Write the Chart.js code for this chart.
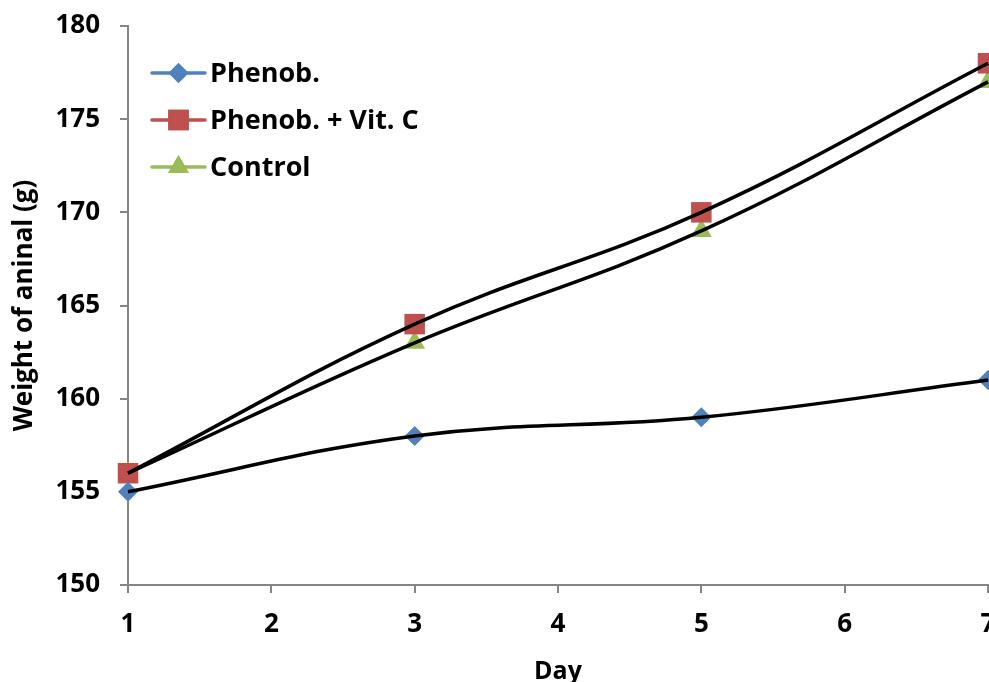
<!DOCTYPE html>
<html>
<head>
<meta charset="utf-8">
<script src="https://cdn.jsdelivr.net/npm/chart.js@4"></script>
<style>
html,body{margin:0;padding:0;overflow:hidden;background:#fff;}
#wrap{width:1012px;height:687px;}
</style>
</head>
<body>
<div id="wrap"><canvas id="c" width="1012" height="687"></canvas></div>
<script>
const days = [1, 3, 5, 7];
const phenob = [155, 158, 159, 161];
const phenobVitC = [156, 164, 170, 178];
const control = [156, 163, 169, 177];
const seriesNames = ['Phenob.', 'Phenob. + Vit. C', 'Control'];
const seriesColors = ['#4F81BD', '#C0504D', '#9BBB59'];
const seriesStyles = ['rectRot', 'rect', 'triangle'];
const seriesRadii = [10, 14.5, 12];
const xTicks = [1, 2, 3, 4, 5, 6, 7];
const yTicks = [150, 155, 160, 165, 170, 175, 180];

const FONT = '"Open Sans"';
const WEIGHT = 'bold';
const allValues = [phenob, phenobVitC, control];
const pts = v => days.map((d, i) => ({x: d, y: v[i]}));

const datasets = [];
allValues.forEach((vals, i) => {
  datasets.push({
    label: seriesNames[i] + ' line',
    data: pts(vals),
    showLine: true,
    borderColor: '#000',
    borderWidth: 3.5,
    pointRadius: 0,
    tension: 0.4,
    fill: false,
    clip: false,
    order: 0
  });
  datasets.push({
    label: seriesNames[i],
    data: pts(vals),
    showLine: false,
    pointStyle: seriesStyles[i],
    pointRadius: seriesRadii[i],
    pointBackgroundColor: seriesColors[i],
    pointBorderColor: seriesColors[i],
    pointBorderWidth: 0,
    clip: false,
    order: 1
  });
});

const legendPlugin = {
  id: 'customLegend',
  afterDraw(chart) {
    const ctx = chart.ctx;
    const ys = [73, 120, 167];
    ctx.save();
    seriesNames.forEach((name, i) => {
      const y = ys[i];
      ctx.strokeStyle = seriesColors[i];
      ctx.lineWidth = 3.5;
      ctx.lineCap = 'round';
      ctx.beginPath();
      ctx.moveTo(152, y);
      ctx.lineTo(205, y);
      ctx.stroke();
      ctx.fillStyle = seriesColors[i];
      Chart.helpers.drawPoint(ctx, {pointStyle: seriesStyles[i], radius: seriesRadii[i], rotation: 0, borderWidth: 0}, 178.5, y);
      ctx.fill();
      ctx.fillStyle = '#000';
      ctx.font = WEIGHT + ' 27px ' + FONT;
      ctx.textBaseline = 'middle';
      ctx.textAlign = 'left';
      ctx.fillText(name, 210, y + 1);
    });
    ctx.restore();
  }
};

new Chart(document.getElementById('c'), {
  type: 'scatter',
  data: {datasets},
  plugins: [legendPlugin],
  options: {
    responsive: false,
    animation: false,
    layout: {padding: {top: 26, right: 24, left: 0, bottom: 0}},
    plugins: {legend: {display: false}, tooltip: {enabled: false}},
    scales: {
      x: {
        type: 'linear',
        min: 1, max: 7,
        afterBuildTicks: s => { s.ticks = xTicks.map(v => ({value: v})); },
        afterFit: s => { s.height = 102; s.paddingLeft = 0; s.paddingRight = 0; },
        grid: {drawOnChartArea: false, color: '#868686', tickLength: 8, lineWidth: 2},
        border: {color: '#868686', width: 2},
        ticks: {color: '#000', font: {family: FONT, size: 26, weight: WEIGHT}, padding: 16},
        title: {display: true, text: 'Day', color: '#000', font: {family: FONT, size: 25, weight: WEIGHT}, padding: {top: 0, bottom: 0}}
      },
      y: {
        min: 150, max: 180,
        afterBuildTicks: s => { s.ticks = yTicks.map(v => ({value: v})); },
        afterFit: s => { s.width = 128; s.paddingTop = 0; s.paddingBottom = 0; },
        grid: {drawOnChartArea: false, color: '#868686', tickLength: 8, lineWidth: 2},
        border: {color: '#868686', width: 2},
        ticks: {color: '#000', font: {family: FONT, size: 26, weight: WEIGHT}, padding: 20},
        title: {display: true, text: 'Weight of aninal (g)', color: '#000', font: {family: FONT, size: 26, weight: WEIGHT}, padding: {top: 9, bottom: 0}}
      }
    }
  }
});
</script>
</body>
</html>
